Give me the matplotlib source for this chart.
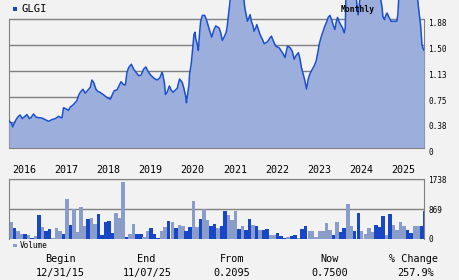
import datetime as dt
import matplotlib
matplotlib.use("Agg")
import matplotlib.pyplot as plt
import matplotlib.dates as mdates
import matplotlib.transforms as mtransforms
import pandas as pd

# price trace (clipped peaks go above the top of the panel)
price_dates = [
    "2015-12-31", "2016-01-24", "2016-02-01", "2016-02-13", "2016-03-01", "2016-03-21", "2016-04-05",
    "2016-04-25", "2016-05-10", "2016-06-03", "2016-06-26", "2016-07-08", "2016-07-31", "2016-08-20",
    "2016-09-12", "2016-10-11", "2016-11-09", "2016-12-08", "2017-01-06", "2017-02-04", "2017-03-05",
    "2017-04-03", "2017-04-17", "2017-05-07", "2017-05-31", "2017-06-14", "2017-07-13", "2017-08-11",
    "2017-08-25", "2017-09-09", "2017-10-02", "2017-10-22", "2017-11-11", "2017-12-05", "2017-12-19",
    "2018-01-03", "2018-01-23", "2018-02-07", "2018-03-02", "2018-03-31", "2018-04-29", "2018-05-28",
    "2018-06-17", "2018-07-01", "2018-07-24", "2018-08-08", "2018-08-28", "2018-09-20", "2018-10-05",
    "2018-10-19", "2018-11-03", "2018-11-26", "2018-12-16", "2019-01-06", "2019-01-29", "2019-02-18",
    "2019-03-13", "2019-03-31", "2019-04-17", "2019-05-10", "2019-06-08", "2019-07-07", "2019-07-30",
    "2019-08-19", "2019-08-25", "2019-09-09", "2019-09-18", "2019-10-02", "2019-10-22", "2019-11-06",
    "2019-11-23", "2019-12-13", "2019-12-28", "2020-01-18", "2020-02-10", "2020-02-24", "2020-03-10",
    "2020-03-18", "2020-03-24", "2020-04-08", "2020-04-14", "2020-04-28", "2020-05-07", "2020-05-22",
    "2020-05-31", "2020-06-06", "2020-06-20", "2020-06-29", "2020-07-10", "2020-07-19", "2020-08-03",
    "2020-08-23", "2020-09-07", "2020-09-21", "2020-10-05", "2020-10-23", "2020-11-12", "2020-11-27",
    "2020-12-26", "2021-01-09", "2021-01-23", "2021-02-07", "2021-02-25", "2021-03-07", "2021-03-16",
    "2021-03-28", "2021-04-10", "2021-06-01", "2021-07-15", "2021-07-31", "2021-08-06", "2021-08-20",
    "2021-08-29", "2021-09-12", "2021-09-21", "2021-10-02", "2021-10-17", "2021-10-25", "2021-11-09",
    "2021-11-18", "2021-12-02", "2021-12-16", "2022-01-06", "2022-01-21", "2022-02-19", "2022-03-13",
    "2022-03-25", "2022-04-11", "2022-05-01", "2022-05-30", "2022-06-19", "2022-07-07", "2022-07-21",
    "2022-08-02", "2022-08-11", "2022-09-03", "2022-09-23", "2022-10-08", "2022-10-22", "2022-11-14",
    "2022-11-28", "2022-12-10", "2022-12-25", "2023-01-09", "2023-01-23", "2023-02-07", "2023-02-21",
    "2023-03-07", "2023-03-31", "2023-04-17", "2023-05-04", "2023-05-13", "2023-05-28", "2023-06-11",
    "2023-07-01", "2023-07-19", "2023-07-30", "2023-08-14", "2023-08-28", "2023-09-15", "2023-09-26",
    "2023-10-08", "2023-10-19", "2023-11-03", "2023-11-18", "2023-12-02", "2023-12-16", "2023-12-25",
    "2023-12-31", "2024-02-10", "2024-03-30", "2024-04-15", "2024-04-30", "2024-07-15", "2024-10-20",
    "2024-10-31", "2024-11-09", "2024-11-15", "2024-11-29", "2024-12-13", "2024-12-22", "2025-01-03",
    "2025-01-18", "2025-01-26", "2025-03-16", "2025-03-25", "2025-04-03", "2025-06-15", "2025-09-05",
    "2025-09-15", "2025-09-24", "2025-10-05", "2025-10-08", "2025-10-14", "2025-10-20", "2025-10-28",
    "2025-11-07",
]
price_vals = [
    0.394, 0.356, 0.308, 0.356, 0.413, 0.461, 0.481,
    0.428, 0.452, 0.486, 0.428, 0.442, 0.495, 0.452,
    0.442, 0.437, 0.413, 0.389, 0.413, 0.428, 0.461,
    0.437, 0.586, 0.572, 0.548, 0.596, 0.634, 0.692,
    0.764, 0.812, 0.856, 0.798, 0.836, 0.884, 0.990,
    0.956, 0.856, 0.827, 0.808, 0.774, 0.735, 0.711,
    0.788, 0.836, 0.846, 0.894, 0.966, 0.923, 0.918,
    1.101, 1.173, 1.221, 1.149, 1.101, 1.053, 1.062,
    1.149, 1.182, 1.125, 1.067, 1.019, 0.990, 1.019,
    1.101, 1.077, 0.942, 0.779, 0.812, 0.904, 0.846,
    0.812, 0.846, 0.865, 1.005, 0.956, 0.875, 0.764,
    0.659, 0.740, 0.908, 1.077, 1.221, 1.375, 1.653,
    1.687, 1.596, 1.509, 1.423, 1.677, 1.846, 1.932,
    1.932, 1.870, 1.788, 1.711, 1.615, 1.726, 1.778,
    1.749, 1.677, 1.567, 1.615, 1.682, 1.774, 1.918,
    2.086, 2.30, 2.45, 2.30, 2.134, 2.038, 1.918,
    1.846, 1.903, 1.942, 1.846, 1.774, 1.702, 1.749,
    1.798, 1.726, 1.653, 1.581, 1.519, 1.548, 1.605,
    1.630, 1.557, 1.485, 1.461, 1.413, 1.365, 1.317,
    1.413, 1.485, 1.461, 1.403, 1.293, 1.341, 1.389,
    1.293, 1.173, 1.077, 0.981, 0.860, 1.005, 1.077,
    1.125, 1.197, 1.269, 1.413, 1.509, 1.605, 1.677,
    1.774, 1.846, 1.903, 1.932, 1.870, 1.774, 1.726,
    1.836, 1.903, 1.836, 1.788, 1.749, 1.677, 1.749,
    2.20, 2.35, 2.17, 1.94, 2.17, 2.45, 2.20,
    2.134, 2.038, 1.918, 1.870, 1.942, 1.966, 1.918,
    1.870, 1.846, 1.846, 1.942, 2.20, 2.50, 2.25,
    2.134, 1.990, 1.846, 1.798, 1.653, 1.509, 1.461,
    1.423,
]

# monthly volume, Jan 2016 .. Nov 2025 (1 = dark/up bar, 0 = light bar)
volume = [
    488, 312, 225, 137, 137, 107, 40, 78, 693, 342, 225, 283,
    20, 312, 225, 137, 1162, 400, 879, 195, 928, 371, 576, 605,
    430, 722, 107, 488, 517, 166, 752, 605, 1660, 49, 137, 430,
    137, 137, 49, 225, 312, 137, 30, 225, 342, 517, 488, 312,
    400, 371, 225, 342, 1103, 342, 576, 879, 547, 371, 430, 312,
    371, 810, 693, 547, 810, 283, 371, 254, 576, 400, 371, 254,
    254, 283, 107, 107, 166, 78, 40, 49, 87, 117, 29, 291,
    379, 233, 233, 58, 233, 233, 466, 262, 117, 495, 204, 320,
    1020, 379, 233, 757, 233, 146, 320, 204, 408, 350, 670, 117,
    728, 408, 262, 495, 379, 262, 175, 379, 379, 379, 816,
]
vol_up = [
    0, 1, 0, 0, 1, 0, 1, 0, 1, 0, 1, 1,
    0, 0, 0, 1, 0, 1, 0, 0, 0, 0, 1, 0,
    0, 1, 1, 1, 1, 1, 0, 0, 0, 1, 0, 0,
    1, 1, 0, 0, 1, 1, 1, 0, 0, 1, 0, 1,
    0, 0, 1, 1, 0, 0, 1, 0, 0, 1, 1, 0,
    1, 1, 0, 0, 0, 1, 0, 1, 1, 0, 1, 0,
    1, 1, 0, 0, 1, 1, 1, 0, 1, 1, 0, 1,
    1, 0, 0, 0, 0, 0, 0, 0, 1, 0, 1, 1,
    0, 0, 1, 1, 0, 0, 0, 0, 1, 1, 1, 0,
    1, 0, 0, 0, 0, 1, 1, 0, 0, 1, 1,
]

years = list(range(2016, 2026))
price_ticks = [0, 0.375, 0.75, 1.125, 1.5, 1.875]
price_labels = ["0", "0.38", "0.75", "1.13", "1.50", "1.88"]
vol_ticks = [0, 869, 1738]
summary_heads = ["Begin", "End", "From", "Now", "% Change"]
summary_vals = ["12/31/15", "11/07/25", "0.2095", "0.7500", "257.9%"]

BG = "#f2f2f2"
FILL = "#9cafdc"
LINE = "#1a4fd0"
DARK = "#1747c6"
LIGHT = "#8a9cc8"
GRID = "#808080"
MONO = "DejaVu Sans Mono"

W, H = 460, 280
fig = plt.figure(figsize=(W / 100, H / 100), dpi=100, facecolor=BG)


def fbox(x0, y0, x1, y1):
    # pixel box (top-left origin) -> figure fractions
    return [x0 / W, 1 - y1 / H, (x1 - x0) / W, (y1 - y0) / H]


def fpt(x, y):
    return x / W, 1 - y / H


xmin = pd.Timestamp("2015-12-31")
xmax = pd.Timestamp("2025-11-07")

# ---- price panel ----
ax = fig.add_axes(fbox(9, 0, 424, 148))
ax.set_facecolor(BG)
dates = pd.to_datetime(price_dates)
ax.fill_between(dates, price_vals, 0, color=FILL, lw=0, zorder=2)
ax.plot(dates, price_vals, color=LINE, lw=1.1, zorder=3)
ax.set_xlim(xmin, xmax)
ax.set_ylim(0, 148 / 128.7 * 1.875)
ax.set_yticks(price_ticks)
ax.set_yticklabels(price_labels)
ax.yaxis.tick_right()
ax.tick_params(axis="y", length=0, pad=3, labelsize=5.6)
for t in ax.get_yticklabels():
    t.set_family(MONO)
    t.set_va("top")
    t.set_y(t.get_position()[1])
ax.set_xticks([])
ax.yaxis.grid(True, color=GRID, lw=1)
ax.set_axisbelow(True)
for s in ["left", "right"]:
    ax.spines[s].set_bounds(0, 1.875)
    ax.spines[s].set_color(GRID)
    ax.spines[s].set_zorder(1)
ax.spines["top"].set_visible(False)
ax.spines["bottom"].set_color(GRID)

trans = mtransforms.blended_transform_factory(ax.transData, ax.transAxes)
for y in years:
    ax.annotate(str(y), (mdates.date2num(dt.datetime(y, 1, 1)), -0.149), xycoords=trans,
                xytext=(2.2, 0), textcoords="offset points", ha="left", va="center",
                fontsize=7.2, family=MONO, annotation_clip=False)

# ---- volume panel ----
av = fig.add_axes(fbox(9, 179.3, 424, 239))
av.set_facecolor(BG)
months = pd.date_range("2016-01-01", periods=len(volume), freq="MS") + pd.Timedelta(days=15)
av.bar(months, volume, width=30.6, color=[DARK if u else LIGHT for u in vol_up],
       lw=0, zorder=2)
av.set_xlim(xmin, xmax)
av.set_ylim(0, 1738)
av.set_yticks(vol_ticks)
av.set_yticklabels([str(v) for v in vol_ticks])
av.yaxis.tick_right()
av.tick_params(axis="y", length=0, pad=3, labelsize=5.6)
for t in av.get_yticklabels():
    t.set_family(MONO)
av.set_xticks([])
av.yaxis.grid(True, color=GRID, lw=1)
av.set_axisbelow(True)
for s in ["left", "right", "top"]:
    av.spines[s].set_color(GRID)
av.spines["bottom"].set_visible(False)

# ---- labels ----
fig.patches.append(plt.Rectangle(fpt(13.3, 11), 3.4 / W, 4 / H, transform=fig.transFigure,
                                 color=DARK, lw=0))
fig.text(*fpt(21.5, 9), "GLGI", fontsize=7.6, family=MONO, va="center", ha="left")
fig.text(*fpt(358, 9), "Monthly", fontsize=5.8, family=MONO, va="center", ha="center",
         fontweight="bold", zorder=5)
fig.patches.append(plt.Rectangle(fpt(12.7, 247.3), 4 / W, 3.6 / H, transform=fig.transFigure,
                                 color=LIGHT, lw=0))
fig.text(*fpt(20, 245.5), "Volume", fontsize=5.6, family=MONO, va="center", ha="left")

head_x = [60, 146, 232, 330, 414]
val_x = [60, 147, 232, 330, 416]
for hx, vx, h, v in zip(head_x, val_x, summary_heads, summary_vals):
    fig.text(*fpt(hx, 259), h, fontsize=7.3, family=MONO, ha="center", va="center")
    fig.text(*fpt(vx, 273), v, fontsize=7.3, family=MONO, ha="center", va="center")

fig.savefig("out.png", dpi=100, facecolor=BG)
